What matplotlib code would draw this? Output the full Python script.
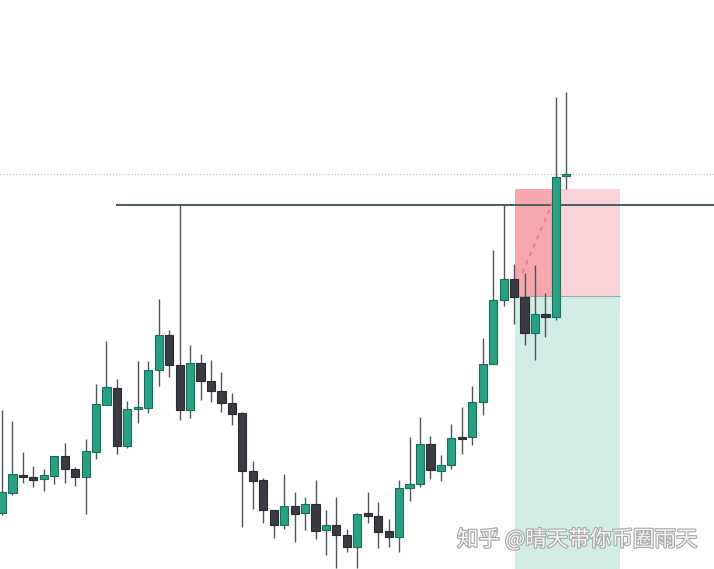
import matplotlib.pyplot as plt
import matplotlib.patheffects as pe
from matplotlib.patches import Rectangle

# candle data (price units, arbitrary scale)
opens  = [87, 107, 125, 123, 121, 124, 144, 131, 123, 148, 195, 212, 154, 191, 192, 230, 265, 235, 190,
          237, 219, 209, 197, 187, 129, 120, 90, 75, 94, 87, 96, 70, 75, 65, 53, 87, 84, 69, 63, 112,
          116, 156, 129, 135, 163, 163, 198, 236, 300, 321, 303, 267, 286, 283, 424]
closes = [108, 126, 123, 120, 125, 144, 131, 123, 149, 196, 213, 154, 191, 193, 230, 265, 235, 190, 237,
          219, 209, 197, 186, 129, 119, 90, 75, 94, 86, 96, 69, 75, 65, 53, 86, 84, 68, 63, 112, 116,
          156, 130, 135, 162, 161, 198, 236, 300, 321, 303, 267, 286, 283, 423, 426]
highs  = [190, 179, 148, 134, 131, 144, 157, 133, 161, 216, 259, 221, 199, 239, 239, 301, 270, 395, 255,
          246, 240, 228, 207, 188, 139, 122, 90, 126, 108, 103, 120, 90, 103, 71, 87, 108, 98, 81, 120, 163,
          183, 164, 145, 176, 193, 214, 262, 350, 395, 336, 327, 335, 307, 503, 508]
lows   = [85, 105, 117, 113, 109, 116, 117, 114, 86, 141, 195, 146, 152, 177, 187, 214, 223, 180, 182,
          200, 198, 188, 175, 73, 91, 77, 62, 71, 58, 70, 61, 45, 32, 48, 32, 77, 52, 53, 48, 99,
          113, 121, 119, 131, 146, 155, 185, 236, 294, 276, 255, 240, 263, 280, 411]

resistance = 395
dotted_level = 426
stop_level = 411
entry_level = 304
box_start, box_split, box_end = 49.1, 53.1, 59.1
line_start = 10.9

up_color = '#27a083'
up_edge = '#1b6e5b'
down_color = '#3a3b42'
down_edge = '#2a2b30'
wick_color = '#50545a'

fig = plt.figure(figsize=(7.14, 5.69), dpi=100)
ax = fig.add_axes([0, 0, 1, 1])
ax.set_xlim(-0.19, 68.13)
ax.set_ylim(31, 600)
ax.axis('off')

# position tool boxes
ax.add_patch(Rectangle((box_start, entry_level), box_split - box_start, stop_level - entry_level,
                       facecolor='#f6a8ad', edgecolor='none', zorder=1))
ax.add_patch(Rectangle((box_split, entry_level), box_end - box_split, stop_level - entry_level,
                       facecolor='#f9d3d8', edgecolor='none', zorder=1))
ax.add_patch(Rectangle((box_start, 0), box_end - box_start, entry_level,
                       facecolor='#d2ece6', edgecolor='none', zorder=1))
ax.hlines(entry_level, box_start, box_end, color='#9aa5a8', lw=0.8, zorder=1.5)

# levels
ax.axhline(dotted_level, color='#c8c8c8', lw=0.9, ls=(0, (1, 1.5)), zorder=1)
ax.hlines(resistance, line_start, 70, color='#4a5d64', lw=1.4, zorder=2)

# dashed path
ax.plot([49.8, 52.9], [327, 403], color='#e0808a', lw=1.1, ls=(0, (3, 3)), zorder=2)

# candles
x = list(range(len(opens)))
for i in x:
    up = closes[i] >= opens[i]
    ax.vlines(i, lows[i], highs[i], color=wick_color, lw=1.0, zorder=3)
    lo = min(opens[i], closes[i])
    h = max(abs(closes[i] - opens[i]), 2.5)
    ax.bar(i, h, bottom=lo, width=0.78,
           color=up_color if up else down_color,
           edgecolor=up_edge if up else down_edge, linewidth=0.8, zorder=4)

# watermark
ax.text(457 / 714, 1 - 540 / 569, '知乎 @晴天带你币圈雨天', transform=ax.transAxes,
        family=['Noto Sans CJK SC', 'DejaVu Sans'], fontsize=15.5, color='#f4f4f4',
        va='center', ha='left', zorder=6,
        path_effects=[pe.withStroke(linewidth=1.6, foreground='#a8a8a8')])

fig.savefig('out.png', dpi=100, facecolor='white')
